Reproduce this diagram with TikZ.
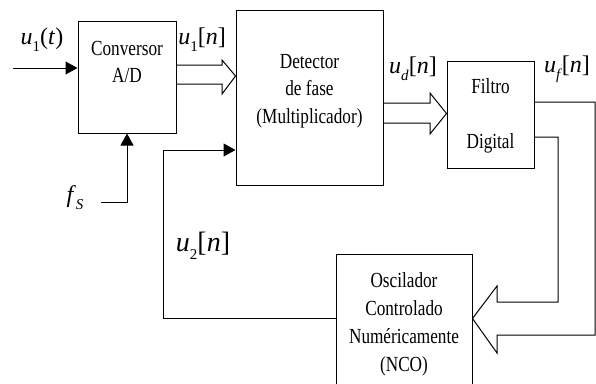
\documentclass[tikz,border=0pt]{standalone}
\usepackage{fontspec}
\setmainfont{Liberation Serif}
\newfontfamily\cfont[FakeStretch=0.8]{Liberation Serif}
\usetikzlibrary{arrows.meta}
\newcommand\ssub[1]{\raisebox{-0.3em}{\fontsize{15}{15}\selectfont #1}}
\begin{document}
\begin{tikzpicture}[x=1pt,y=-1pt,line width=1pt,
  blk/.style={draw,line width=1pt,inner sep=0pt},
  lab/.style={font=\cfont\fontsize{21.5}{27.5}\selectfont,align=center,inner sep=0pt},
  sig/.style={inner sep=0pt,font=\fontsize{24}{24}\selectfont},
  tri/.style={-{Triangle[length=12pt,width=13pt]}}]
\clip (0,0) rectangle (596,383);
\fill[white] (0,0) rectangle (596,383);
% blocks
\node[blk,minimum width=98pt,minimum height=112pt] (conv) at (127,77) {};
\node[lab] (convt) at (127,62) {Conversor\\A/D};
\node[blk,minimum width=147pt,minimum height=175pt] (det) at (309.5,97.5) {};
\node[lab] (dett) at (309.5,91) {Detector\\de fase\\(Multiplicador)};
\node[blk,minimum width=87pt,minimum height=107pt] (filt) at (490.5,114.5) {};
\node[lab] (filtt) at (490.5,116) {Filtro\\[27pt]Digital};
\node[blk,minimum width=136pt,minimum height=150pt,anchor=north] (nco) at (404,254) {};
\node[lab,font=\cfont\fontsize{21.5}{28}\selectfont] (ncot) at (404,324) {Oscilador\\Controlado\\Numéricamente\\(NCO)};
% signals
\coordinate (uin) at (13,68);
\draw[tri] (uin) -- (uin -| conv.west);
\coordinate (fsin) at (101,202);
\draw[tri] (fsin) -| (conv.south);
\coordinate (fbl) at (163,318);
\coordinate (fbr) at (236,150);
\draw[tri] (nco.west |- fbl) -- (fbl) |- (det.west |- fbr);
% wide arrows
\draw[line join=miter] (conv.east |- 0,65) -- (222,65) -- (222,60) -- (det.west |- 0,76) -- (222,94) -- (222,84) -- (conv.east |- 0,84);
\draw[line join=miter] (det.east |- 0,103) -- (430,103) -- (430,93) -- (filt.west |- 0,113.5) -- (430,134) -- (430,123) -- (det.east |- 0,123);
\draw[line join=miter] (filt.east |- 0,102) -- (595,102) -- (595,335) -- (497,335) -- (497,353) -- (nco.east |- 0,318.5) -- (497,286) -- (497,302) -- (558,302) -- (558,137) -- (filt.east |- 0,137);
% labels
\node[sig] (l1) at (42,40) {\textit{u}\ssub{1}(\textit{t})};
\node[sig] (l2) at (202,40) {\textit{u}\ssub{1}[\textit{n}]};
\node[sig] (l3) at (413,69) {\textit{u}\ssub{\textit{d}}[\textit{n}]};
\node[sig] (l4) at (567,69) {\textit{u}\ssub{\textit{f}}[\textit{n}]};
\node[sig] (l5) at (75,198) {\textit{f}\ssub{\textit{S}}};
\node[sig,font=\fontsize{28}{28}\selectfont] (l6) at (203,246) {\textit{u}\ssub{2}[\textit{n}]};
\end{tikzpicture}
\end{document}
